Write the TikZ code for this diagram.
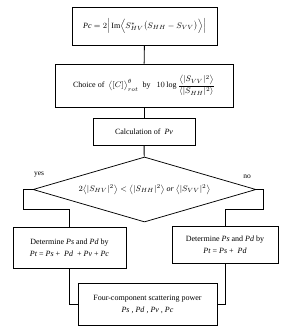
\documentclass[tikz,border=0pt]{standalone}
\usepackage{amsmath}
\usepackage{fontspec}
\setmainfont{Liberation Serif}
\usetikzlibrary{shapes.geometric}

\tikzset{every picture/.style={line width=0.75pt}}
\tikzset{
  procbox/.style={draw, rectangle, inner sep=0.75pt, align=center, font=\fontsize{8}{12}\selectfont},
  decbox/.style={draw, diamond, shape aspect=3.43, inner sep=0pt, minimum width=223, minimum height=65, font=\fontsize{8}{9}\selectfont},
  flowline/.style={line width=0.9pt},
}

\begin{document}
\begin{tikzpicture}[x=1pt,y=1pt,yscale=-1]
\useasboundingbox (0,0) rectangle (300,332);

%Flowchart: Process
\node [procbox, minimum width=145, minimum height=38] (pc) at (144.5,26) {$\mathit{Pc}=2\Big|\,\mathrm{Im}\Big\langle S^{*}_{HV}\big(S_{HH}-S_{VV}\big)\Big\rangle\Big|$};
%Flowchart: Process
\node [procbox, minimum width=178, minimum height=43] (choice) at (144,85.5) {Choice of\ \ $\big\langle[C]\big\rangle^{\theta}_{rot}$\ \ by\ \ \ $10\log\dfrac{\left\langle|S_{VV}|^{2}\right\rangle}{\left\langle|S_{HH}|^{2}\right\rangle}$};
%Flowchart: Process
\node [procbox, minimum width=102, minimum height=27] (calc) at (144,132) {Calculation of\ \ \textit{Pv}};
%Flowchart: Decision
\node [decbox] (cond) at (144.5,189.5) {$2\big\langle|S_{HV}|^{2}\big\rangle<\big\langle|S_{HH}|^{2}\big\rangle$ \textit{or} $\big\langle|S_{VV}|^{2}\big\rangle$};
%Flowchart: Process
\node [procbox, minimum width=113, minimum height=41] (detall) at (69.5,247.5) {Determine \textit{Ps} and \textit{Pd} by\\ \textit{Pt} = \textit{Ps} + \ \textit{Pd} \ + \textit{Pv} + \textit{Pc}};
%Flowchart: Process
\node [procbox, minimum width=106, minimum height=37] (dettwo) at (225,244.5) {Determine \textit{Ps} and \textit{Pd} by\\ \textit{Pt} = \textit{Ps} + \ \textit{Pd}};
%Flowchart: Process
\node [procbox, minimum width=139, minimum height=42] (power) at (147.5,304) {Four-component scattering power\\ \textit{Ps} , \textit{Pd} , \textit{Pv} , \textit{Pc}};

%Straight Lines
\draw [flowline] (pc) -- (choice) ;
%Straight Lines
\draw [flowline] (choice) -- (calc) ;
%Straight Lines
\draw [flowline] (calc) -- (cond) ;
%Straight Lines
\draw [flowline] (cond.west) -| ++(-9,20) -| (detall.north) ;
%Straight Lines
\draw [flowline] (cond.east) -| ++(7,20) -| (dettwo.north) ;
%Straight Lines
\draw [flowline] (detall.south) |- (power.west) ;
%Straight Lines
\draw [flowline] (dettwo.south) |- (power.east) ;

% Text Node
\node [inner sep=0.75pt, font=\fontsize{7.5}{8}\selectfont] (yes) at (39,175) {yes};
% Text Node
\node [inner sep=0.75pt, font=\fontsize{7.5}{8}\selectfont] (no) at (247,177) {no};

\end{tikzpicture}
\end{document}
